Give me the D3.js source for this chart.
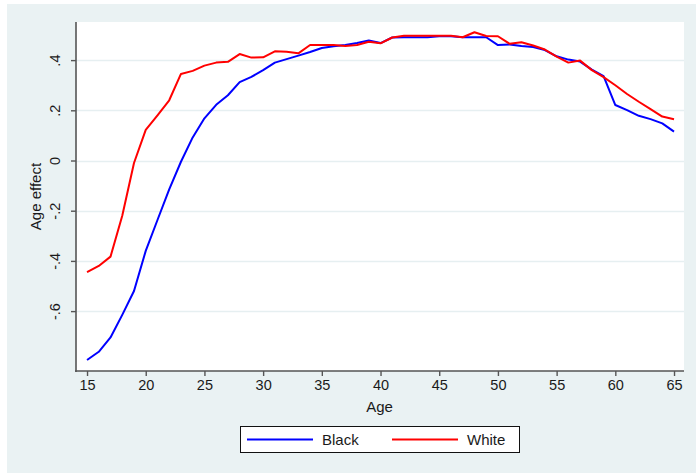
<!DOCTYPE html>
<html>
<head>
<meta charset="utf-8">
<script src="https://cdn.jsdelivr.net/npm/d3@7"></script>
<style>
  html, body { margin: 0; padding: 0; background: #ffffff; }
  svg { display: block; font-family: "Liberation Sans", Arial, sans-serif; }
</style>
</head>
<body>
<svg id="chart" width="696" height="473"></svg>
<script>
// Age effect estimates by age, one value per year of age
const ages = d3.range(15, 66);
const blackEffect = [
  -0.795, -0.762, -0.705, -0.615, -0.520, -0.360, -0.237, -0.115, -0.005, 0.092,
   0.168,  0.222,  0.260,  0.312,  0.333,  0.360,  0.390,  0.404,  0.418, 0.432,
   0.448,  0.455,  0.460,  0.468,  0.478,  0.468,  0.490,  0.491,  0.491, 0.491,
   0.495,  0.495,  0.491,  0.491,  0.491,  0.460,  0.462,  0.456,  0.452, 0.440,
   0.415,  0.402,  0.394,  0.362,  0.336,  0.221,  0.201,  0.178,  0.165, 0.148,
   0.115
];
const whiteEffect = [
  -0.445, -0.420, -0.383, -0.220, -0.010, 0.122, 0.180, 0.240, 0.345, 0.357,
   0.378,  0.390,  0.393,  0.424,  0.410, 0.411, 0.435, 0.433, 0.427, 0.460,
   0.460,  0.460,  0.456,  0.460,  0.473, 0.467, 0.490, 0.497, 0.497, 0.497,
   0.497,  0.497,  0.491,  0.511,  0.496, 0.495, 0.465, 0.471, 0.458, 0.442,
   0.414,  0.390,  0.398,  0.360,  0.332, 0.300, 0.265, 0.234, 0.205, 0.175,
   0.164
];
const seriesNames = ["Black", "White"];
const seriesColors = ["#0000ff", "#ff0000"];
const xTicks = [15, 20, 25, 30, 35, 40, 45, 50, 55, 60, 65];
const yTicks = [-0.6, -0.4, -0.2, 0, 0.2, 0.4];
const yTickLabels = ["-.6", "-.4", "-.2", "0", ".2", ".4"];

const svg = d3.select("#chart");
const W = 696, H = 473;

// graph background
svg.append("rect").attr("x", 0).attr("y", 0).attr("width", W).attr("height", H).attr("fill", "#ffffff");
svg.append("rect").attr("x", 7).attr("y", 4).attr("width", W - 7).attr("height", H - 4).attr("fill", "#eaf2f3");

const plot = { left: 76, top: 22, right: 684, bottom: 371 };

const x = d3.scaleLinear().domain([14.06, 65.85]).range([plot.left, plot.right]);
const y = d3.scaleLinear().domain([-0.8386, 0.5518]).range([plot.bottom, plot.top]);

// plot region
svg.append("rect")
  .attr("x", plot.left).attr("y", plot.top)
  .attr("width", plot.right - plot.left).attr("height", plot.bottom - plot.top)
  .attr("fill", "#ffffff");

// horizontal grid lines
svg.append("g").selectAll("line").data(yTicks).join("line")
  .attr("x1", plot.left).attr("x2", plot.right)
  .attr("y1", d => Math.round(y(d)) + 0.5).attr("y2", d => Math.round(y(d)) + 0.5)
  .attr("stroke", "#e6eff1").attr("stroke-width", 1.5);

// y axis
const yAxis = d3.axisLeft(y).tickValues(yTicks)
  .tickFormat((d, i) => yTickLabels[i]).tickSize(5).tickPadding(6);
const gy = svg.append("g").attr("transform", `translate(${plot.left},0)`).call(yAxis);
gy.select(".domain").attr("d", `M0,${plot.top}V${plot.bottom + 1}`).attr("stroke", "#555").attr("stroke-width", 1.6);
gy.selectAll(".tick line").attr("stroke", "#555").attr("stroke-width", 1.4);
gy.selectAll(".tick text")
  .attr("font-size", 14.5).attr("fill", "#1a1a1a")
  .attr("text-anchor", "middle")
  .attr("dy", 0)
  .attr("x", 0).attr("y", 0)
  .attr("transform", "translate(-16,0) rotate(-90)");

// x axis
const xAxis = d3.axisBottom(x).tickValues(xTicks).tickSize(5).tickPadding(4);
const gx = svg.append("g").attr("transform", `translate(0,${plot.bottom})`).call(xAxis);
gx.select(".domain").attr("d", `M${plot.left - 1},0H${plot.right}`).attr("stroke", "#555").attr("stroke-width", 1.6);
gx.selectAll(".tick line").attr("stroke", "#555").attr("stroke-width", 1.4);
gx.selectAll(".tick text").attr("font-size", 14.5).attr("fill", "#1a1a1a");

// axis titles
svg.append("text").attr("x", (plot.left + plot.right) / 2 - 0.5).attr("y", 412)
  .attr("text-anchor", "middle").attr("font-size", 15).attr("fill", "#1a1a1a").text("Age");
svg.append("text")
  .attr("transform", `translate(41,${(plot.top + plot.bottom) / 2}) rotate(-90)`)
  .attr("text-anchor", "middle").attr("font-size", 15).attr("fill", "#1a1a1a").text("Age effect");

// series lines
const line = d3.line().x(d => x(d[0])).y(d => y(d[1]));
const series = [blackEffect, whiteEffect];
series.forEach((vals, i) => {
  svg.append("path")
    .datum(ages.map((a, j) => [a, vals[j]]))
    .attr("fill", "none")
    .attr("stroke", seriesColors[i])
    .attr("stroke-width", 2)
    .attr("stroke-linejoin", "round")
    .attr("d", line);
});

// legend
const lg = svg.append("g");
lg.append("rect").attr("x", 240.5).attr("y", 426.5).attr("width", 279).attr("height", 26)
  .attr("fill", "#ffffff").attr("stroke", "#111").attr("stroke-width", 1);
const legendItems = [
  { x0: 247, x1: 313, tx: 322 },
  { x0: 392, x1: 458, tx: 467 }
];
legendItems.forEach((it, i) => {
  lg.append("line").attr("x1", it.x0).attr("x2", it.x1).attr("y1", 439.5).attr("y2", 439.5)
    .attr("stroke", seriesColors[i]).attr("stroke-width", 2);
  lg.append("text").attr("x", it.tx).attr("y", 445).attr("font-size", 15).attr("fill", "#1a1a1a")
    .text(seriesNames[i]);
});
</script>
</body>
</html>
